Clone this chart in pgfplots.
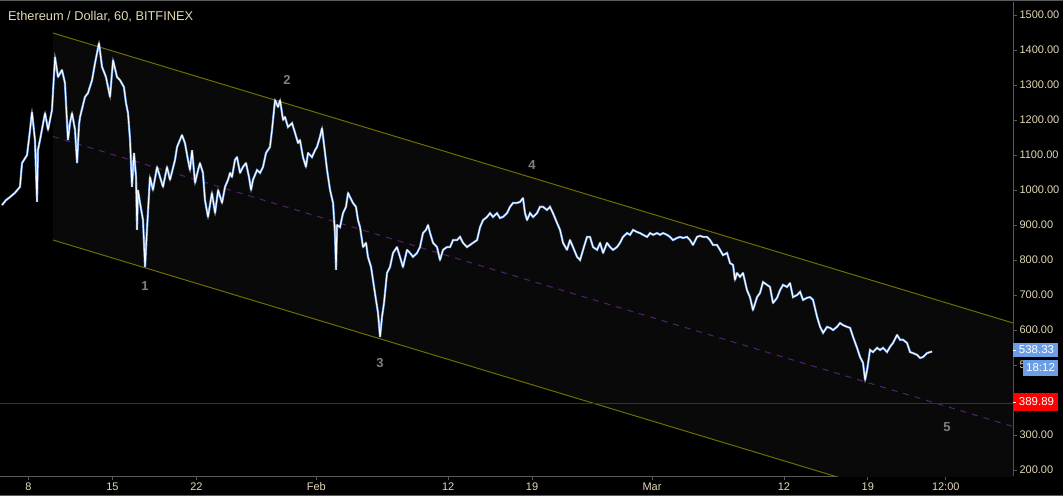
\documentclass[border=0pt]{standalone}
\usepackage{fontspec}
\setmainfont{Liberation Sans}
\usepackage{pgfplots}
\usepackage{pgfplotstable}
\pgfplotsset{compat=1.18}
\definecolor{cream}{RGB}{226,216,182}
\definecolor{tvblue}{RGB}{108,158,232}
\definecolor{olive2}{RGB}{110,110,0}
\definecolor{midpurple}{RGB}{80,35,110}
\definecolor{chanfill}{RGB}{9,9,9}
\definecolor{frame}{RGB}{90,90,90}
\definecolor{lvlred}{RGB}{170,0,0}
\pgfplotstableread{
day price
5.79 957
6.12 971
6.46 980
6.87 992
7.29 1009
7.46 1077
7.88 1100
8.13 1172
8.29 1223
8.54 1143
8.71 966
8.79 1114
8.96 1143
9.38 1220
9.63 1172
9.96 1229
10.21 1380
10.46 1323
10.79 1343
11.04 1306
11.29 1143
11.46 1191
11.63 1220
11.88 1172
12.05 1077
12.21 1186
12.30 1209
12.71 1266
12.96 1277
13.30 1314
13.55 1363
13.88 1420
14.13 1352
14.46 1323
14.80 1266
15.05 1371
15.38 1323
15.63 1314
15.96 1294
16.13 1249
16.30 1220
16.47 1143
16.63 1009
16.80 1106
16.97 1037
17.05 886
17.13 1000
17.30 963
17.55 914
17.72 780
17.88 886
18.13 1037
18.38 1000
18.72 1066
18.97 1037
19.22 1009
19.55 1066
19.80 1029
20.22 1086
20.39 1123
20.80 1157
21.05 1134
21.30 1086
21.47 1057
21.64 1114
21.89 1020
22.14 1057
22.30 1077
22.55 1049
22.72 971
22.97 923
23.30 992
23.56 934
23.81 1000
24.14 963
24.39 1009
24.64 1029
24.81 1049
24.97 1037
25.22 1086
25.39 1094
25.64 1049
25.89 1066
26.14 1077
26.39 1037
26.56 1000
26.72 1029
27.06 1057
27.31 1049
27.56 1066
27.81 1106
28.14 1123
28.31 1172
28.56 1257
28.81 1237
28.98 1257
29.23 1200
29.39 1209
29.64 1180
29.98 1191
30.23 1163
30.48 1134
30.64 1143
30.89 1094
31.14 1066
31.31 1106
31.64 1094
31.90 1114
32.06 1123
32.31 1152
32.48 1177
32.73 1106
32.90 1057
33.15 1000
33.40 963
33.56 877
33.65 772
33.73 900
33.98 894
34.23 934
34.48 952
34.65 992
34.81 980
35.06 963
35.31 952
35.48 914
35.65 894
35.90 837
36.15 849
36.31 809
36.57 780
36.73 743
36.98 686
37.15 649
37.32 580
37.48 637
37.65 677
37.90 763
38.15 780
38.40 820
38.73 837
38.98 809
39.23 780
39.57 829
39.82 820
40.07 809
40.40 820
40.65 837
40.90 877
41.15 886
41.32 900
41.49 877
41.74 849
42.07 837
42.32 800
42.57 829
42.90 837
43.16 837
43.41 857
43.74 857
43.99 866
44.24 849
44.57 837
44.82 843
45.07 849
45.41 857
45.66 894
45.91 914
46.24 923
46.49 934
46.74 923
47.07 934
47.32 920
47.57 923
47.91 934
48.16 952
48.41 963
48.74 963
48.99 966
49.24 977
49.41 934
49.58 914
49.83 934
50.08 923
50.41 934
50.66 952
50.91 952
51.24 943
51.49 952
51.74 934
52.08 906
52.33 886
52.58 849
52.91 829
53.16 857
53.41 837
53.75 809
54.00 800
54.25 829
54.58 866
54.83 866
55.08 837
55.42 829
55.67 849
55.92 820
56.25 849
56.50 837
56.75 829
57.08 837
57.33 849
57.58 866
57.92 877
58.17 872
58.42 886
58.75 880
59.00 877
59.25 872
59.59 866
59.84 877
60.09 872
60.42 877
60.67 872
60.92 877
61.25 872
61.50 866
61.75 857
62.09 863
62.34 866
62.59 863
62.92 866
63.17 857
63.42 843
63.75 866
64.00 869
64.26 866
64.59 866
64.84 857
65.09 843
65.42 843
65.67 829
65.92 814
66.26 820
66.51 791
66.76 786
66.92 743
67.09 763
67.34 752
67.59 763
67.92 714
68.17 694
68.42 657
68.76 694
69.01 706
69.26 737
69.59 729
69.84 723
70.09 677
70.43 692
70.68 714
70.93 729
71.26 723
71.51 734
71.76 694
72.10 700
72.35 709
72.60 686
72.93 692
73.18 694
73.43 686
73.77 637
74.02 609
74.27 592
74.60 609
74.85 606
75.10 600
75.43 609
75.68 620
75.93 614
76.27 609
76.52 606
76.77 580
77.10 549
77.35 523
77.60 506
77.77 457
77.94 486
78.18 543
78.43 537
78.77 549
79.02 543
79.27 549
79.60 537
79.85 552
80.10 563
80.44 586
80.69 572
80.94 572
81.27 563
81.52 537
81.77 534
82.11 529
82.36 520
82.61 523
82.94 534
83.19 537
83.36 538
}\price
\pgfplotstableread{
day level
5.623 389.89
90.11 389.89
}\level
\begin{document}
\begin{tikzpicture}
\fill[black] (0pt,-20pt) rectangle (1063pt,476pt);
\useasboundingbox (0pt,-20pt) rectangle (1063pt,476pt);
\begin{axis}[
  at={(0pt,0pt)}, anchor=south west,
  scale only axis, width=1013pt, height=474pt,
  xmin=5.623, xmax=90.11, ymin=182.9, ymax=1537.2,
  axis x line*=bottom, axis y line*=right,
  axis line style={draw=frame, line width=1pt, -},
  tick align=outside, major tick length=4pt,
  tick style={draw=frame, line width=0.8pt},
  ytick={200,300,500,600,700,800,900,1000,1100,1200,1300,1400,1500},
  xtick={8,15,22,32,43,50,60,71,78,84.5},
  xticklabels={8,15,22,Feb,12,19,Mar,12,19,12:00},
  /pgf/number format/assume math mode=true,
  y tick label style={/pgf/number format/fixed, /pgf/number format/fixed zerofill, /pgf/number format/precision=2, /pgf/number format/1000 sep={}},
  y tick label style={font=\fontsize{11}{13}\selectfont, text=cream, anchor=west, xshift=-1pt},
  x tick label style={font=\fontsize{11}{13}\selectfont, text=cream, yshift=1pt},
  clip=true,
]
\addplot[fill=chanfill, draw=none] coordinates {(10.04,1448.6) (90.11,620.1) (90.11,28.5) (10.04,857.2) (10.04,1448.6)};
\addplot[draw=midpurple, line width=1pt, dash pattern=on 6pt off 6pt] coordinates {(10.04,1152.9) (90.11,324.3)};
\addplot[draw=olive2, line width=1pt] coordinates {(10.04,1448.6) (90.11,620.1)};
\addplot[draw=olive2, line width=1pt] coordinates {(10.04,857.2) (90.11,28.5)};
\addplot[draw=lvlred, line width=1.5pt] table[x=day,y=level] {\level};
\addplot[draw=tvblue, line width=2.2pt, line join=miter, miter limit=2] table[x=day,y=price] {\price};
\addplot[draw=white, line width=1pt] table[x=day,y=price] {\price};
\node[text=gray, font=\bfseries\fontsize{13}{15}\selectfont] at (axis cs:17.72,726) {1};
\node[text=gray, font=\bfseries\fontsize{13}{15}\selectfont] at (axis cs:29.56,1314) {2};
\node[text=gray, font=\bfseries\fontsize{13}{15}\selectfont] at (axis cs:37.32,506) {3};
\node[text=gray, font=\bfseries\fontsize{13}{15}\selectfont] at (axis cs:49.99,1071) {4};
\node[text=gray, font=\bfseries\fontsize{13}{15}\selectfont] at (axis cs:84.60,323) {5};
\end{axis}
\draw[frame, line width=1pt] (0pt,475.5pt) -- (1063pt,475.5pt);
\draw[frame, line width=1pt] (0pt,-19.5pt) -- (1063pt,-19.5pt);
\node[anchor=west, text=cream, font=\fontsize{12.8}{14}\selectfont, inner sep=0pt] at (8pt,459pt) {Ethereum / Dollar, 60, BITFINEX};
% price labels
\fill[tvblue] (1013pt,119pt) rectangle (1058pt,133pt);
\node[text=white, font=\fontsize{11.5}{13}\selectfont, inner sep=0pt] at (1036.5pt,126pt) {538.33};
\fill[tvblue] (1023pt,100pt) rectangle (1058pt,116pt);
\node[text=white, font=\fontsize{11.5}{13}\selectfont, inner sep=0pt] at (1040.5pt,108pt) {18:12};
\fill[red] (1013pt,65pt) rectangle (1058pt,83pt);
\node[text=white, font=\fontsize{11.5}{13}\selectfont, inner sep=0pt] at (1036.5pt,74pt) {389.89};
\draw[white, line width=0.8pt] (1013pt,126pt) -- (1016pt,126pt);
\draw[white, line width=0.8pt] (1013pt,74pt) -- (1016pt,74pt);
\end{tikzpicture}
\end{document}
